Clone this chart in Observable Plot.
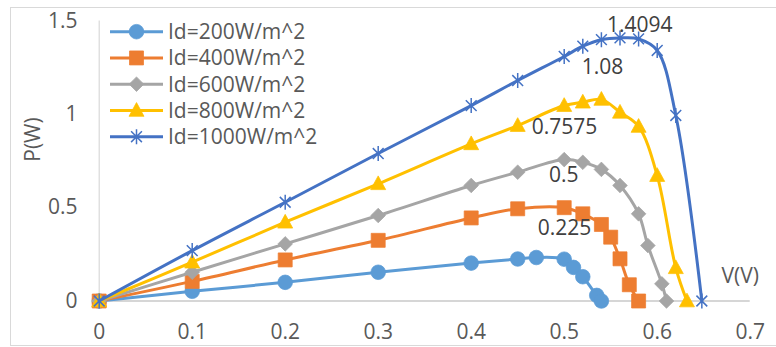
<!DOCTYPE html>
<html><head><meta charset="utf-8">
<script src="https://cdn.jsdelivr.net/npm/d3@7"></script>
<script src="https://cdn.jsdelivr.net/npm/@observablehq/plot@0.6"></script>
<style>
html,body{margin:0;padding:0;background:#fff;overflow:hidden;}
#wrap{position:relative;width:776px;height:347px;}
#frame{position:absolute;left:10px;top:7px;width:800px;height:339px;border:1px solid #D9D9D9;box-sizing:border-box;}
#chart{position:absolute;left:0;top:0;}
</style></head><body>
<div id="wrap"><div id="frame"></div><div id="chart"></div></div>
<script>
// ---- data ----
const seriesNames = ["Id=200W/m^2","Id=400W/m^2","Id=600W/m^2","Id=800W/m^2","Id=1000W/m^2"];
const seriesColors = ["#5B9BD5","#ED7D31","#A5A5A5","#FFC000","#4472C4"];

const v200 = [0,0.1,0.2,0.3,0.4,0.45,0.47,0.5,0.51,0.52,0.535,0.54];
const p200 = [0,0.052,0.1,0.154,0.203,0.225,0.233,0.224,0.18,0.13,0.03,0];

const v400 = [0,0.1,0.2,0.3,0.4,0.45,0.5,0.52,0.54,0.55,0.56,0.57,0.58];
const p400 = [0,0.105,0.22,0.325,0.445,0.494,0.5,0.467,0.41,0.342,0.226,0.087,0];

const v600 = [0,0.1,0.2,0.3,0.4,0.45,0.5,0.52,0.54,0.56,0.58,0.59,0.605,0.61];
const p600 = [0,0.154,0.306,0.458,0.619,0.69,0.7575,0.743,0.705,0.619,0.467,0.297,0.092,0];

const v800 = [0,0.1,0.2,0.3,0.4,0.45,0.5,0.52,0.54,0.56,0.58,0.6,0.62,0.632];
const p800 = [0,0.208,0.422,0.628,0.842,0.94,1.047,1.065,1.08,1.011,0.935,0.672,0.178,0];

const v1000 = [0,0.1,0.2,0.3,0.4,0.45,0.5,0.52,0.54,0.56,0.58,0.6,0.62,0.648];
const p1000 = [0,0.27,0.529,0.79,1.047,1.181,1.31,1.365,1.4,1.4094,1.404,1.342,0.994,0];

const xTicks = [0,0.1,0.2,0.3,0.4,0.5,0.6,0.7];
const yTicks = [0,0.5,1,1.5];

const labelText = ["0.225","0.5","0.7575","1.08","1.4094"];
const labelV = [0.5004,0.4996,0.5004,0.5412,0.5813];
const labelP = [0.392,0.672,0.931,1.2523,1.4756];

// ---- symbols (Excel-like markers) ----
const rad = s => Math.sqrt(s / Math.PI);
const symCircle = {draw(c, s){ const r = rad(s); c.moveTo(r,0); c.arc(0,0,r,0,2*Math.PI); c.closePath(); }};
const symSquare = {draw(c, s){ const r = rad(s); c.rect(-r,-r,2*r,2*r); }};
const symDiamond = {draw(c, s){ const r = rad(s); c.moveTo(0,-r); c.lineTo(r,0); c.lineTo(0,r); c.lineTo(-r,0); c.closePath(); }};
const symTriangle = {draw(c, s){ const r = rad(s); c.moveTo(0,-r*1.05); c.lineTo(r,r*0.78); c.lineTo(-r,r*0.78); c.closePath(); }};
const symStar = {draw(c, s){ const r = rad(s); const a = r*0.72; c.moveTo(-a,-a); c.lineTo(a,a); c.moveTo(-a,a); c.lineTo(a,-a); c.moveTo(0,-r); c.lineTo(0,r); }};

const seriesV = [v200,v400,v600,v800,v1000];
const seriesP = [p200,p400,p600,p800,p1000];
const symbols = [symCircle,symSquare,symDiamond,symTriangle,symStar];
const symR = [7.3,7,7.3,7.5,7.5];
const filled = [true,true,true,true,false];

const FONT = "'Open Sans', sans-serif";
const FS = 21;

const marks = [
  Plot.axisX({ticks: xTicks, tickSize: 0, tickPadding: 23, label: null, tickFormat: d => String(d)}),
  Plot.axisY({ticks: yTicks, tickSize: 0, tickPadding: 21.7, label: null, tickFormat: d => String(d)}),
  Plot.ruleX([0], {stroke: "#D9D9D9", strokeWidth: 1.2}),
  Plot.ruleY([0], {stroke: "#C8C8C8", strokeWidth: 1.3})
];

seriesV.forEach((V, k) => {
  const rows = V.map((v, i) => ({v, p: seriesP[k][i]}));
  marks.push(Plot.line(rows, {x: "v", y: "p", stroke: seriesColors[k], strokeWidth: 3, curve: "catmull-rom"}));
  marks.push(Plot.dot(rows, {
    x: "v", y: "p", symbol: symbols[k], r: symR[k],
    fill: filled[k] ? seriesColors[k] : "none",
    stroke: seriesColors[k], strokeWidth: filled[k] ? 0.75 : 1.5
  }));
});

const labelRows = labelText.map((t, i) => ({t, v: labelV[i], p: labelP[i]}));
marks.push(Plot.text(labelRows, {x: "v", y: "p", text: "t", fill: "#404040", fontSize: FS, lineAnchor: "middle"}));
marks.push(Plot.text(["V(V)"], {frameAnchor: "bottom-right", dx: -10, dy: -25, textAnchor: "middle", lineAnchor: "middle", fill: "#595959", fontSize: FS}));
marks.push(Plot.text(["P(W)"], {frameAnchor: "left", dx: -66, dy: -21.5, rotate: -90, textAnchor: "middle", lineAnchor: "middle", fill: "#595959", fontSize: FS}));

const plot = Plot.plot({
  width: 776, height: 347,
  marginLeft: 98.7, marginRight: 26.3, marginTop: 20.5, marginBottom: 46.5,
  x: {domain: [0, 0.7]},
  y: {domain: [0, 1.5]},
  style: {fontFamily: FONT, fontSize: FS + "px", color: "#595959", background: "transparent", overflow: "visible"},
  marks
});
document.getElementById("chart").appendChild(plot);

// ---- legend (inside the plot area, top-left) ----
const svg = d3.select(plot);
const lg = svg.append("g").attr("font-family", FONT).attr("font-size", FS).attr("text-anchor", "start");
const legY0 = 31.7, legDY = 26.25;
seriesNames.forEach((name, k) => {
  const y = legY0 + k * legDY;
  const g = lg.append("g").attr("transform", `translate(0,${y})`);
  g.append("line").attr("x1", 110).attr("x2", 163).attr("y1", 0).attr("y2", 0)
    .attr("stroke", seriesColors[k]).attr("stroke-width", 3);
  g.append("path").attr("transform", "translate(136.5,0)")
    .attr("d", d3.symbol(symbols[k], Math.PI * symR[k] * symR[k])())
    .attr("fill", filled[k] ? seriesColors[k] : "none")
    .attr("stroke", seriesColors[k]).attr("stroke-width", filled[k] ? 0.75 : 1.5);
  g.append("text").attr("x", 168).attr("y", 0).attr("dy", "0.35em")
    .attr("text-anchor", "start").attr("fill", "#595959").text(name);
});
</script>
</body></html>
